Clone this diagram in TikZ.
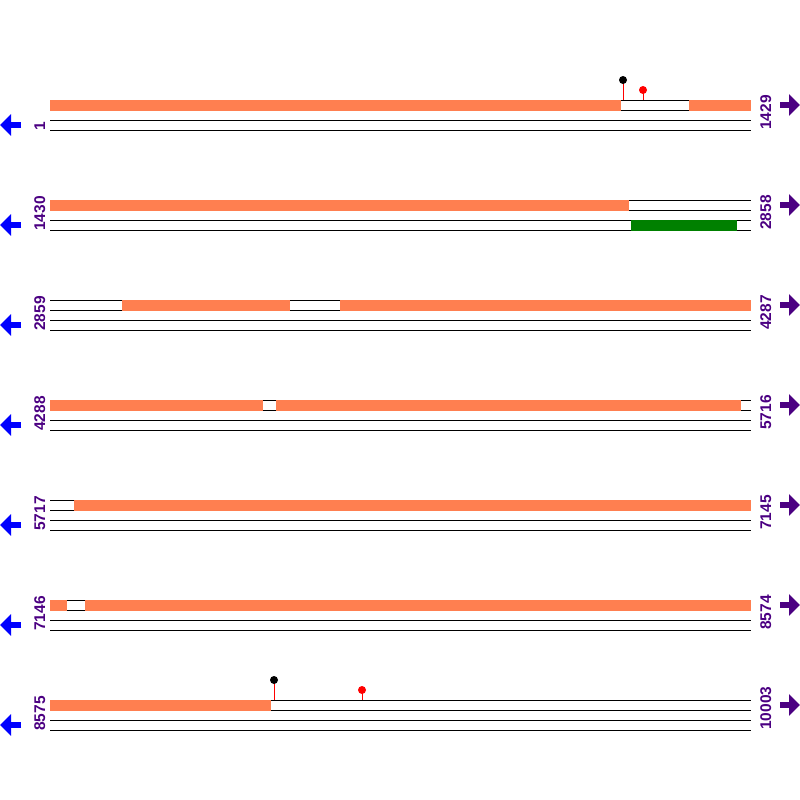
\documentclass[tikz,border=0pt]{standalone}
\usepackage{fontspec}
\setmainfont{Liberation Sans}
\usetikzlibrary{arrows.meta}
\definecolor{cds}{HTML}{FF7F50}
\definecolor{lbl}{HTML}{4B0082}
\definecolor{hit}{HTML}{008000}

\begin{document}
\begin{tikzpicture}[x=1pt,y=-1pt,>=Stealth,
  seq/.style={line width=1pt},
  num/.style={text=lbl,font=\fontsize{15.5}{15.5}\selectfont\bfseries,rotate=90,anchor=base west,inner sep=0pt},
  pinhead/.style={circle,inner sep=0pt,minimum size=8pt},
  stem/.style={red,line width=1pt},
  bigarrow/.style={line width=6pt,-{Triangle[length=11pt,width=21pt]}}]
\useasboundingbox (0,0) rectangle (800,800);
\foreach \r/\lft/\rgt in {0/1/1429,1/1430/2858,2/2859/4287,3/4288/5716,4/5717/7145,5/7146/8574,6/8575/10003}
 {\foreach \d in {0,10,20,30} \draw[seq] (50,100*\r+100+\d)--(751,100*\r+100+\d);
  \node[num] (l\r) at (45,100*\r+131) {\lft};
  \node[num] (r\r) at (771,100*\r+130) {\rgt};
  \draw[blue,bigarrow] (21,100*\r+125)--(0,100*\r+125);
  \draw[lbl,bigarrow] (780,100*\r+105)--(800,100*\r+105);}
% coloured blocks
\foreach \y/\a/\b in {100/50/621,100/689/751,200/50/629,300/122/290,300/340/751,400/50/263,400/276/741,500/74/751,600/50/67,600/85/751,700/50/271}
 \fill[cds] (\a,\y-0.5) rectangle (\b,\y+10.5);
\fill[hit] (631,219.5) rectangle (737,230.5);
% lollipops
\foreach \n/\x/\y/\b/\c in {a/623/80/100/black,b/643/90/100/red,c/274/680/700/black,d/362/690/700/red}
 {\coordinate (\n0) at (\x,\b);
  \draw[stem] (\x,\y)--(\n0);
  \node[pinhead,fill=\c] (\n) at (\x,\y) {};}
\end{tikzpicture}
\end{document}
